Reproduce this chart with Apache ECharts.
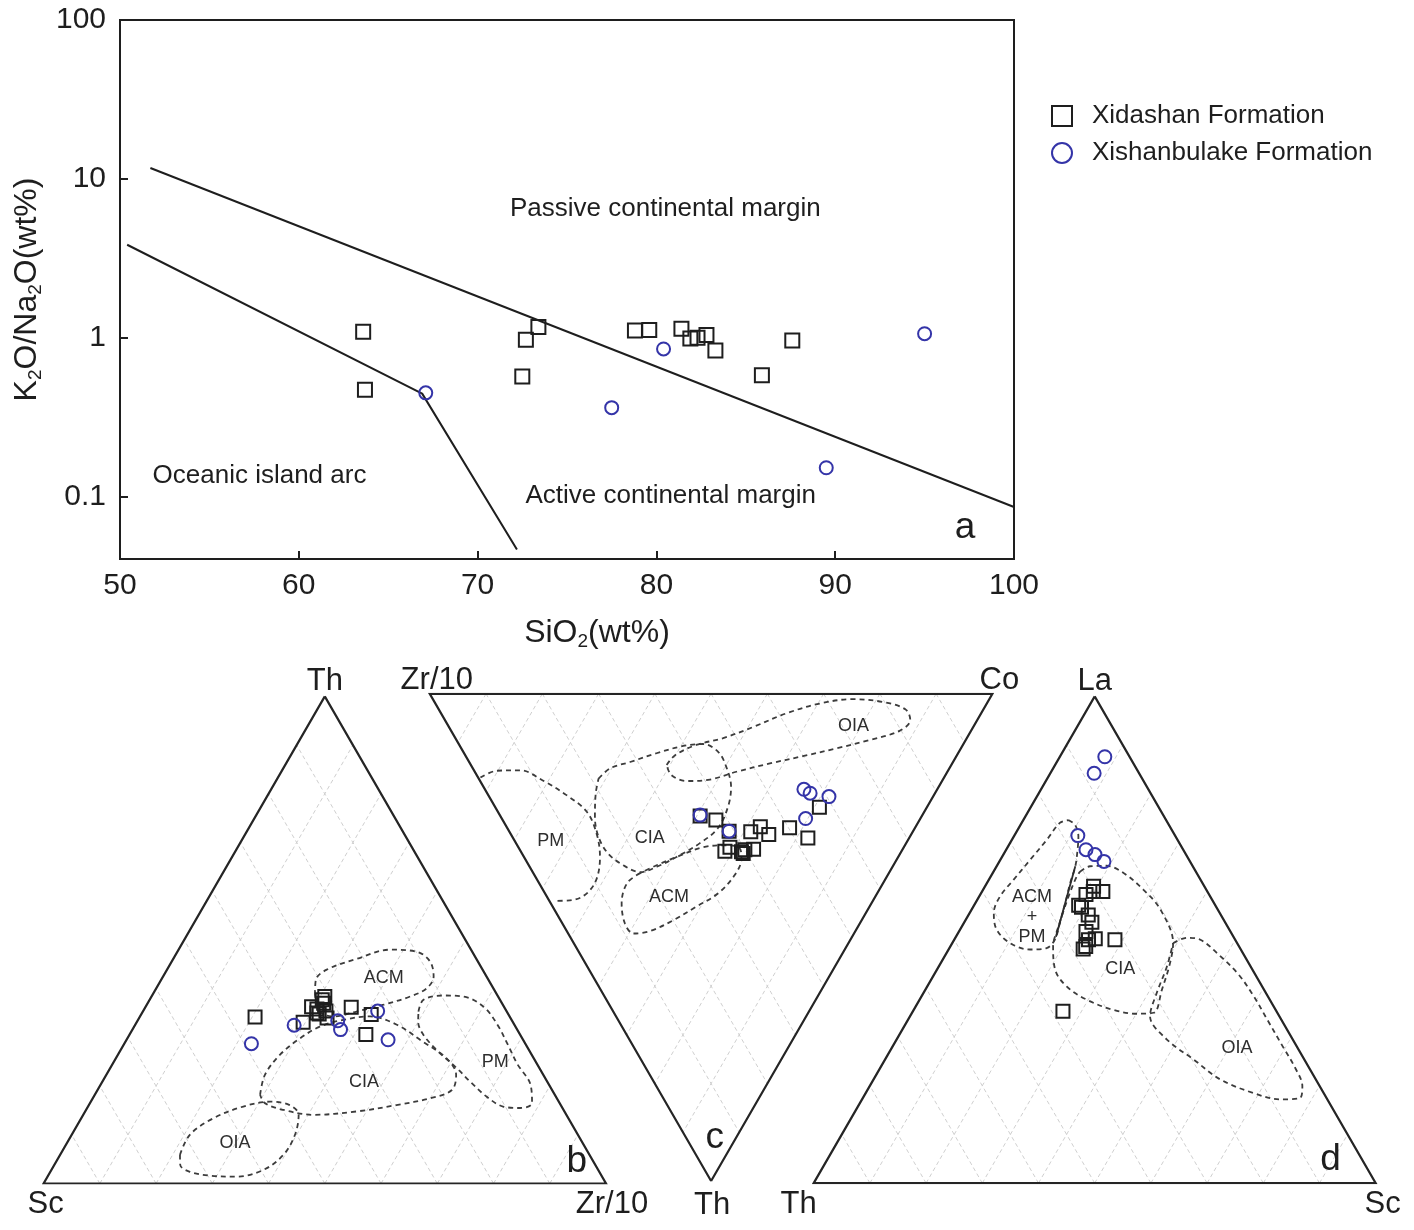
<!DOCTYPE html>
<html>
<head>
<meta charset="utf-8">
<script src="https://cdn.jsdelivr.net/npm/echarts@6/dist/echarts.min.js"></script>
<style>html,body{margin:0;padding:0;background:#fff}#chart{width:1414px;height:1230px}</style>
</head>
<body>
<div id="chart"></div>
<script>
// ================= DATA =================
// Panel a: SiO2 (wt%) vs K2O/Na2O
const siO2Xidashan  = [63.6, 63.7, 72.7, 73.4, 72.5, 78.8, 79.6, 81.4, 81.9, 82.3, 82.8, 83.3, 85.9, 87.6];
const ratioXidashan = [1.09, 0.47, 0.97, 1.17, 0.57, 1.11, 1.12, 1.14, 0.99, 1.00, 1.04, 0.83, 0.58, 0.96];
const siO2Xishan    = [67.1, 77.5, 80.4, 89.5, 95.0];
const ratioXishan   = [0.45, 0.363, 0.85, 0.152, 1.06];
const pcmBoundarySiO2  = [51.7, 100];
const pcmBoundaryRatio = [11.7, 0.086];
const oiaBoundarySiO2  = [50.4, 66.9, 72.2];
const oiaBoundaryRatio = [3.85, 0.445, 0.0465];
const xTicksA = [50, 60, 70, 80, 90, 100];
const yTicksA = [0.1, 1, 10, 100];

// Ternary ticks (%)
const ternTicks = [10, 20, 30, 40, 50, 60, 70, 80, 90];

// Panel b: [Th, Zr/10, Sc] (%)
const bXidashan = [[34.2,20.5,45.3],[33.1,29.6,37.3],[35.8,30.7,33.5],[38.4,30.8,30.8],[37.0,31.3,31.7],[37.7,30.7,31.6],[35.4,32.5,32.1],[34.0,33.4,32.6],[34.8,31.6,33.6],[36.3,29.5,34.2],[35.0,31.1,33.9],[36.2,36.6,27.2],[34.7,40.9,24.4],[30.6,42.0,27.4]];
const bXishan = [[28.7,22.6,48.7],[32.5,28.3,39.2],[33.4,35.6,31.0],[31.6,37.0,31.4],[35.4,41.7,22.9],[29.5,46.5,24.0]];
const bFieldACM = [[38.7,28.9,32.4],[41.8,27.5,30.7],[43.9,28.4,27.7],[46.1,32.6,21.3],[48.0,37.6,14.4],[47.6,42.5,9.9],[45.6,45.9,8.5],[42.5,48.1,9.4],[40.1,48.1,11.8],[38.4,46.0,15.6],[36.7,42.1,21.2],[35.3,38.0,26.7],[34.3,34.4,31.3],[35.3,31.5,33.2]];
const bFieldCIA = [[18.2,29.4,52.4],[22.3,28.2,49.5],[26.4,28.8,44.8],[29.8,30.7,39.5],[32.2,33.0,34.8],[33.6,36.5,29.9],[34.3,40.9,24.8],[32.6,46.5,20.9],[29.1,52.9,18.0],[25.7,58.8,15.5],[22.3,62.2,15.5],[19.2,63.0,17.8],[17.5,60.0,22.5],[16.1,54.7,29.2],[14.8,48.3,36.9],[14.1,40.9,45.0],[15.1,35.1,49.8],[16.5,31.1,52.4]];
const bFieldPM = [[35.3,49.0,15.7],[37.7,48.7,13.6],[38.6,51.8,9.6],[38.2,56.2,5.6],[36.0,60.5,3.5],[32.5,64.5,3.0],[28.5,68.3,3.2],[24.5,72.0,3.5],[20.2,76.5,3.3],[16.5,78.6,4.9],[15.5,77.0,7.5],[15.8,73.8,10.4],[17.8,69.9,12.3],[20.9,65.4,13.7],[23.7,61.6,14.7],[27.4,56.2,16.4],[30.5,52.3,17.2],[33.2,50.0,16.8]];
const bFieldOIA = [[5.9,21.3,72.8],[10.0,21.0,69.0],[13.4,23.5,63.1],[15.8,27.6,56.6],[16.8,31.9,51.3],[16.1,35.7,48.2],[14.1,38.3,47.6],[10.0,39.7,50.3],[5.9,39.7,54.4],[2.8,37.7,59.5],[1.4,33.6,65.0],[1.6,28.8,69.6],[2.4,24.8,72.8],[3.8,22.4,73.8]];

// Panel c: [Th, Co, Zr/10] (%)
const cXidashan = [[25.1,35.5,39.4],[25.9,37.9,36.2],[28.2,39.1,32.7],[28.3,42.9,28.8],[27.3,45.1,27.6],[28.9,45.8,25.3],[27.5,50.2,22.3],[23.3,57.6,19.1],[29.6,52.4,18.0],[32.3,36.3,31.4],[31.5,37.6,30.9],[32.4,39.2,28.4],[32.8,39.3,27.9],[31.9,41.6,26.5],[32.0,40.0,28.0]];
const cXishan = [[24.9,35.6,39.5],[28.2,39.1,32.7],[19.6,56.7,23.7],[20.4,57.4,22.2],[21.1,60.4,18.5],[25.6,54.0,20.4]];
const cFieldOIA = [[14.6,34.8,50.6],[12.6,37.3,50.1],[10.5,42.1,47.4],[9.1,47.6,43.3],[6.8,54.1,39.1],[4.0,61.4,34.6],[2.0,68.3,29.7],[1.1,74.6,24.3],[1.8,80.2,18.0],[3.3,83.0,13.7],[5.4,82.7,11.9],[7.6,79.7,12.7],[9.5,73.4,17.1],[11.2,66.7,22.1],[12.8,59.9,27.3],[14.3,53.3,32.4],[16.0,46.5,37.5],[17.6,41.0,41.4],[17.9,36.7,45.4],[16.7,34.6,48.7]];
const cFieldCIA = [[17.4,21.3,61.3],[15.3,24.4,60.3],[14.0,28.6,57.4],[12.2,34.2,53.6],[10.7,39.7,49.6],[10.3,43.4,46.3],[11.9,45.3,42.8],[15.0,45.2,39.8],[19.1,44.0,36.9],[23.2,41.4,35.4],[27.6,37.4,35.0],[30.7,32.6,36.7],[33.5,27.1,39.4],[35.5,22.6,41.9],[36.6,19.1,44.3],[35.2,16.8,48.0],[32.8,15.3,51.9],[29.4,15.3,55.3],[25.3,16.7,58.0],[20.4,19.3,60.3]];
const cFieldACM = [[36.8,19.0,44.2],[38.9,15.6,45.5],[43.0,12.6,44.4],[47.2,11.1,41.7],[49.2,11.6,39.2],[48.7,14.8,36.5],[46.5,20.0,33.5],[43.7,25.5,30.8],[41.0,30.7,28.3],[37.2,35.6,27.2],[33.8,38.5,27.7],[31.7,39.2,29.1],[31.1,37.2,31.7],[31.5,32.8,35.7],[33.5,27.1,39.4],[35.2,22.7,42.1]];
const cFieldPM = [[17.2,0.4,82.4],[15.8,4.0,80.2],[15.7,8.2,76.1],[17.9,11.3,70.8],[20.8,13.9,65.3],[24.2,15.8,60.0],[28.7,15.3,56.0],[33.5,13.5,53.0],[38.3,10.4,51.3],[41.3,6.9,51.8],[42.4,3.7,53.9],[42.5,1.0,56.5]];

// Panel d: [La, Sc, Th] (%)
const dXidashan = [[61.0,19.3,19.7],[59.9,21.5,18.6],[59.3,18.8,21.9],[57.1,18.6,24.3],[56.7,19.3,24.0],[55.1,21.3,23.6],[53.6,22.7,23.7],[51.7,22.6,25.7],[50.2,25.0,24.8],[50.0,23.9,26.1],[48.1,23.9,28.0],[48.6,24.1,27.3],[50.0,28.6,21.4],[35.3,26.7,38.0],[59.9,19.8,20.3]];
const dXishan = [[87.6,8.0,4.4],[84.2,7.8,8.0],[71.4,11.3,17.3],[68.5,14.2,17.3],[67.5,16.3,16.2],[66.1,18.6,15.3]];
const dFieldACMPM = [[74.6,8.0,17.4],[73.6,9.7,16.7],[71.2,11.5,17.3],[68.5,12.7,18.8],[65.1,14.0,20.9],[61.7,14.8,23.5],[57.5,16.0,26.5],[53.4,17.1,29.5],[50.0,17.9,32.1],[48.3,17.3,34.4],[48.0,14.5,37.5],[49.3,10.3,40.4],[52.1,6.5,41.4],[55.5,4.3,40.2],[58.9,3.7,37.4],[62.3,4.4,33.3],[66.4,5.3,28.3],[70.5,6.2,23.3],[74.0,6.8,19.2]];
const dSolidBoundary = [[65.1,14.0,20.9],[50.6,17.8,31.6]];
const dFieldCIA = [[64.0,15.4,20.6],[65.1,16.6,18.3],[65.2,19.5,15.3],[63.7,23.3,13.0],[60.3,28.5,11.2],[56.2,33.6,10.2],[49.3,39.3,11.4],[45.2,40.8,14.0],[39.7,42.1,18.2],[35.0,43.0,22.0],[34.8,40.1,25.1],[35.6,35.5,28.9],[37.7,29.7,32.6],[40.4,24.8,34.8],[43.9,21.0,35.1],[48.6,18.3,33.1],[52.7,17.2,30.1],[58.9,15.9,25.2],[63.0,15.3,21.7]];
const dFieldOIA = [[49.3,39.3,11.4],[50.4,41.2,8.4],[50.0,43.8,6.2],[47.0,48.5,4.5],[43.0,54.0,3.0],[38.5,59.0,2.5],[33.5,64.0,2.5],[28.5,69.0,2.5],[23.5,74.0,2.5],[19.9,77.0,3.1],[17.5,77.8,4.7],[17.2,74.4,8.4],[18.5,69.0,12.5],[21.3,61.7,17.0],[25.4,54.9,19.7],[29.5,48.1,22.4],[34.3,42.7,23.0],[39.1,41.5,19.4],[44.5,40.6,14.9]];

// ================= HELPERS =================
const FONT = "'Liberation Sans', Arial, Helvetica, sans-serif";
const INK = '#1e1e1e';
const BLUE = '#3434a8';
const H = Math.sqrt(3) / 2;
function zip(a, b) { return a.map((v, i) => [v, b[i]]); }
// vertex positions in the unit triangle frame for [component0, component1, component2]
const VERT_B = [[0.5, H], [1, 0], [0, 0]];  // Th top, Zr/10 right, Sc left
const VERT_C = [[0.5, 0], [1, H], [0, H]];  // Th bottom, Co top-right, Zr/10 top-left
const VERT_D = [[0.5, H], [1, 0], [0, 0]];  // La top, Sc right, Th left
function tern(v, c) {
  const s = c[0] + c[1] + c[2];
  return [(c[0]*v[0][0] + c[1]*v[1][0] + c[2]*v[2][0]) / s,
          (c[0]*v[0][1] + c[1]*v[1][1] + c[2]*v[2][1]) / s];
}
function gridLines(v) {
  const out = [];
  ternTicks.forEach(k => {
    [1, 2].forEach(i => {
      const j = 3 - i;
      const p1 = [0, 0, 0]; p1[i] = k; p1[j] = 100 - k;
      const p2 = [0, 0, 0]; p2[i] = k; p2[0] = 100 - k;
      out.push({ coords: [tern(v, p1), tern(v, p2)] });
    });
  });
  return out;
}
const squareStyle = { color: 'rgba(0,0,0,0)', borderColor: INK, borderWidth: 2, opacity: 1 };
const circleStyle = { color: 'rgba(0,0,0,0)', borderColor: BLUE, borderWidth: 2, opacity: 1 };
const blankStyle = { color: 'rgba(0,0,0,0)', opacity: 1 };

const series = [];

// ---------- panel a ----------
series.push({ type: 'line', xAxisIndex: 0, yAxisIndex: 0, data: zip(pcmBoundarySiO2, pcmBoundaryRatio),
  symbol: 'none', silent: true, lineStyle: { color: INK, width: 2 }, z: 2 });
series.push({ type: 'line', xAxisIndex: 0, yAxisIndex: 0, data: zip(oiaBoundarySiO2, oiaBoundaryRatio),
  symbol: 'none', silent: true, lineStyle: { color: INK, width: 2 }, z: 2 });
series.push({ type: 'scatter', name: 'Xidashan Formation', xAxisIndex: 0, yAxisIndex: 0,
  data: zip(siO2Xidashan, ratioXidashan), symbol: 'rect', symbolSize: 14, itemStyle: squareStyle, z: 5 });
series.push({ type: 'scatter', name: 'Xishanbulake Formation', xAxisIndex: 0, yAxisIndex: 0,
  data: zip(siO2Xishan, ratioXishan), symbol: 'circle', symbolSize: 13, itemStyle: circleStyle, z: 5 });
const labelsA = [
  { name: 'Passive continental margin', value: [80.5, 6.5], fs: 26 },
  { name: 'Oceanic island arc', value: [57.8, 0.135], fs: 26 },
  { name: 'Active continental margin', value: [80.8, 0.101], fs: 26 },
  { name: 'a', value: [97.26, 0.0633], fs: 37 }
];
series.push({ type: 'scatter', xAxisIndex: 0, yAxisIndex: 0, silent: true, symbolSize: 1,
  itemStyle: blankStyle, z: 6,
  data: labelsA.map(l => ({ name: l.name, value: l.value,
    label: { show: true, position: 'inside', formatter: '{b}', fontSize: l.fs, color: INK, fontFamily: FONT } })) });

// ---------- ternary panels ----------
const panels = [
  { gi: 1, v: VERT_B, sq: bXidashan, ci: bXishan,
    fields: [bFieldACM, bFieldCIA, bFieldPM, bFieldOIA], open: [], solid: [],
    labels: [['ACM',[42.2,39.4,18.4]],['CIA',[20.9,46.5,32.6]],['PM',[25.0,67.8,7.2]],['OIA',[8.3,29.9,61.8]]],
    letter: ['b', [4.4, 92.6, 3.0]],
    vlabels: [['Th',[100,0,0],[0,-15]],['Zr/10',[0,100,0],[6,21]],['Sc',[0,0,100],[2,21]]] },
  { gi: 2, v: VERT_C, sq: cXidashan, ci: cXishan,
    fields: [cFieldOIA, cFieldCIA, cFieldACM], open: [cFieldPM], solid: [],
    labels: [['PM',[30.2,6.4,63.4]],['CIA',[29.6,24.3,46.1]],['ACM',[41.8,21.6,36.6]],['OIA',[6.6,72.0,21.4]]],
    letter: ['c', [91.1, 5.1, 3.8]],
    vlabels: [['Th',[100,0,0],[1,24]],['Co',[0,100,0],[7,-13]],['Zr/10',[0,0,100],[7,-13]]] },
  { gi: 3, v: VERT_D, sq: dXidashan, ci: dXishan,
    fields: [dFieldACMPM, dFieldCIA, dFieldOIA], open: [], solid: [dSolidBoundary],
    labels: [['ACM\n+\nPM',[54.7,11.5,33.8]],['CIA',[43.9,32.6,23.5]],['OIA',[27.8,61.4,10.8]]],
    letter: ['d', [4.7, 89.6, 5.7]],
    vlabels: [['La',[100,0,0],[0,-15]],['Sc',[0,100,0],[7,21]],['Th',[0,0,100],[-15,21]]] }
];

panels.forEach(p => {
  const ax = { xAxisIndex: p.gi, yAxisIndex: p.gi };
  series.push(Object.assign({ type: 'lines', coordinateSystem: 'cartesian2d', silent: true, z: 1,
    data: gridLines(p.v), lineStyle: { color: '#cfcfcf', width: 1, type: [4, 3], opacity: 1 } }, ax));
  series.push(Object.assign({ type: 'lines', coordinateSystem: 'cartesian2d', polyline: true, silent: true, z: 3,
    data: [{ coords: [[100,0,0],[0,100,0],[0,0,100],[100,0,0]].map(c => tern(p.v, c)) }],
    lineStyle: { color: '#252525', width: 2.2, opacity: 1 } }, ax));
  p.fields.forEach(f => {
    const pts = f.map(c => tern(p.v, c)); pts.push(pts[0]);
    series.push(Object.assign({ type: 'line', data: pts, symbol: 'none', smooth: 0.35, silent: true, z: 2,
      lineStyle: { color: '#3c3c3c', width: 1.8, type: [5, 4] } }, ax));
  });
  p.open.forEach(f => {
    series.push(Object.assign({ type: 'line', data: f.map(c => tern(p.v, c)), symbol: 'none', smooth: 0.35, silent: true, z: 2,
      lineStyle: { color: '#3c3c3c', width: 1.8, type: [5, 4] } }, ax));
  });
  p.solid.forEach(f => {
    series.push(Object.assign({ type: 'line', data: f.map(c => tern(p.v, c)), symbol: 'none', silent: true, z: 2,
      lineStyle: { color: '#2c2c2c', width: 1.8 } }, ax));
  });
  series.push(Object.assign({ type: 'scatter', name: 'Xidashan Formation', data: p.sq.map(c => tern(p.v, c)),
    symbol: 'rect', symbolSize: 13, itemStyle: squareStyle, z: 5 }, ax));
  series.push(Object.assign({ type: 'scatter', name: 'Xishanbulake Formation', data: p.ci.map(c => tern(p.v, c)),
    symbol: 'circle', symbolSize: 13, itemStyle: circleStyle, z: 5 }, ax));
  const lab = p.labels.map(l => ({ name: l[0], value: tern(p.v, l[1]),
    label: { show: true, position: 'inside', formatter: '{b}', fontSize: 18, lineHeight: 20, color: '#2e2e2e', fontFamily: FONT } }));
  lab.push({ name: p.letter[0], value: tern(p.v, p.letter[1]),
    label: { show: true, position: 'inside', formatter: '{b}', fontSize: 37, color: INK, fontFamily: FONT } });
  p.vlabels.forEach(l => lab.push({ name: l[0], value: tern(p.v, l[1]),
    label: { show: true, position: 'inside', formatter: '{b}', fontSize: 31, color: INK, fontFamily: FONT, offset: l[2] } }));
  series.push(Object.assign({ type: 'scatter', silent: true, symbolSize: 1, itemStyle: blankStyle,
    z: 6, data: lab }, ax));
});

// ================= CHART =================
const chart = echarts.init(document.getElementById('chart'));
const hiddenX = gi => ({ gridIndex: gi, type: 'value', min: 0, max: 1, show: false });
const hiddenY = gi => ({ gridIndex: gi, type: 'value', min: 0, max: H, show: false });
chart.setOption({
  animation: false,
  backgroundColor: '#fff',
  textStyle: { fontFamily: FONT },
  legend: {
    data: ['Xidashan Formation', 'Xishanbulake Formation'],
    orient: 'vertical', left: 1046, top: 97, itemWidth: 20, itemHeight: 20, itemGap: 9,
    selectedMode: false,
    textStyle: { fontSize: 26, color: INK, fontFamily: FONT, lineHeight: 28, padding: [0, 0, 0, 15] }
  },
  grid: [
    { left: 120, top: 20, width: 894, height: 539, show: true, borderColor: INK, borderWidth: 2 },
    { left: 43.6, top: 696.4, width: 562.4, height: 487.1 },
    { left: 429.8, top: 693.8, width: 562.6, height: 487.2 },
    { left: 813.7, top: 696.4, width: 562, height: 486.7 }
  ],
  xAxis: [
    { gridIndex: 0, type: 'value', min: 50, max: 100, interval: 10,
      axisLine: { lineStyle: { color: INK, width: 2 } },
      axisTick: { inside: true, length: 8, lineStyle: { color: INK, width: 2 } },
      axisLabel: { fontSize: 30, color: INK, margin: 12, fontFamily: FONT,
        formatter: v => (xTicksA.indexOf(v) >= 0 ? String(v) : '') },
      splitLine: { show: false },
      name: '{n|SiO}{s|2}{n|(wt%)}', nameLocation: 'middle', nameGap: 56,
      nameTextStyle: { padding: [0, 0, 0, 60], rich: {
        n: { fontSize: 32, color: INK, fontFamily: FONT, lineHeight: 36 },
        s: { fontSize: 19, color: INK, fontFamily: FONT, lineHeight: 20, verticalAlign: 'bottom' } } } },
    hiddenX(1), hiddenX(2), hiddenX(3)
  ],
  yAxis: [
    { gridIndex: 0, type: 'log', logBase: 10, min: 0.0405, max: 100,
      axisLine: { lineStyle: { color: INK, width: 2 } },
      axisTick: { inside: true, length: 8, lineStyle: { color: INK, width: 2 } },
      axisLabel: { fontSize: 30, color: INK, margin: 14, fontFamily: FONT,
        formatter: v => { const m = yTicksA.find(t => Math.abs(Math.log10(t) - Math.log10(v)) < 1e-6); return m === undefined ? '' : String(m); } },
      minorTick: { show: false }, splitLine: { show: false },
      name: '{n|K}{s|2}{n|O/Na}{s|2}{n|O(wt%)}', nameLocation: 'middle', nameGap: 45,
      nameTextStyle: { rich: {
        n: { fontSize: 32, color: INK, fontFamily: FONT, lineHeight: 36 },
        s: { fontSize: 19, color: INK, fontFamily: FONT, lineHeight: 20, verticalAlign: 'bottom' } } } },
    hiddenY(1), hiddenY(2), hiddenY(3)
  ],
  series: series
});
</script>
</body>
</html>
